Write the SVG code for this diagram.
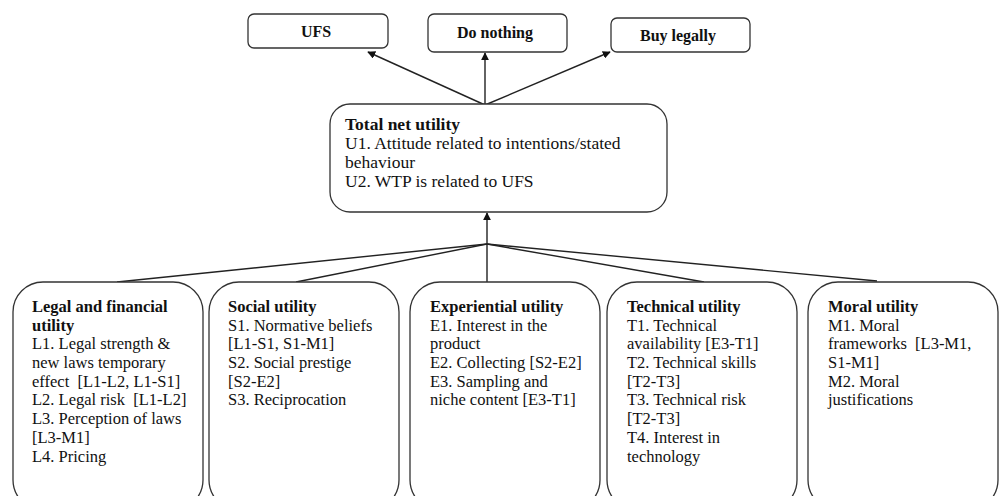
<svg xmlns="http://www.w3.org/2000/svg" width="1003" height="496" viewBox="0 0 1003 496">
<defs>
<style>
.box{fill:#fff;stroke:#333;stroke-width:1.3}
.t{font-family:"Liberation Serif","Times New Roman",serif;font-size:16.5px;fill:#111;white-space:pre}
.big{font-size:17.5px}
.hd{font-size:16px}
.b{font-weight:bold}
.c{text-anchor:middle}
.ln{stroke:#222;stroke-width:1.4;fill:none}
</style>
<marker id="ah" viewBox="0 0 10 10" refX="9" refY="5" markerWidth="8" markerHeight="8" markerUnits="userSpaceOnUse" orient="auto">
<path d="M0,0 L10,5 L0,10 z" fill="#111"/>
</marker>
</defs>
<rect width="1003" height="496" fill="#fff"/>
<g id="connectors">
<line class="ln" x1="485" y1="105" x2="368" y2="52" marker-end="url(#ah)"/>
<line class="ln" x1="485" y1="105" x2="485" y2="53" marker-end="url(#ah)"/>
<line class="ln" x1="485" y1="105" x2="610" y2="52" marker-end="url(#ah)"/>
<line class="ln" x1="487" y1="244" x2="487" y2="213" marker-end="url(#ah)"/>
<line class="ln" x1="487" y1="244" x2="117" y2="282"/>
<line class="ln" x1="487" y1="244" x2="296" y2="282"/>
<line class="ln" x1="487" y1="244" x2="487" y2="282"/>
<line class="ln" x1="487" y1="244" x2="704" y2="282"/>
<line class="ln" x1="487" y1="244" x2="877" y2="281"/>
</g>
<g id="ufs">
<rect class="box" x="248" y="14" width="140" height="34" rx="6"/>
<text class="t hd b c" x="316" y="37">UFS</text>
</g>
<g id="do-nothing">
<rect class="box" x="428" y="14" width="139" height="38" rx="6"/>
<text class="t hd b c" x="495" y="38">Do nothing</text>
</g>
<g id="buy-legally">
<rect class="box" x="611" y="18" width="139" height="34" rx="6"/>
<text class="t hd b c" x="678" y="41">Buy legally</text>
</g>
<g id="total">
<rect class="box" x="330" y="104" width="337" height="108" rx="20"/>
<text class="t big" x="345"><tspan class="b" x="345" y="130">Total net utility</tspan><tspan x="345" y="149">U1. Attitude related to intentions/stated</tspan><tspan x="345" y="168">behaviour</tspan><tspan x="345" y="187">U2. WTP is related to UFS</tspan></text>
</g>
<g id="legal">
<rect class="box" x="13" y="282" width="190" height="228" rx="30"/>
<text class="t" x="32"><tspan class="b" x="32" y="312">Legal and financial</tspan><tspan class="b" x="32" y="331">utility</tspan><tspan x="32" y="349">L1. Legal strength &amp;</tspan><tspan x="32" y="368">new laws temporary</tspan><tspan x="32" y="387">effect  [L1-L2, L1-S1]</tspan><tspan x="32" y="405">L2. Legal risk  [L1-L2]</tspan><tspan x="32" y="424">L3. Perception of laws</tspan><tspan x="32" y="443">[L3-M1]</tspan><tspan x="32" y="462">L4. Pricing</tspan></text>
</g>
<g id="social">
<rect class="box" x="209" y="282" width="190" height="228" rx="30"/>
<text class="t" x="228"><tspan class="b" x="228" y="312">Social utility</tspan><tspan x="228" y="331">S1. Normative beliefs</tspan><tspan x="228" y="349">[L1-S1, S1-M1]</tspan><tspan x="228" y="368">S2. Social prestige</tspan><tspan x="228" y="387">[S2-E2]</tspan><tspan x="228" y="405">S3. Reciprocation</tspan></text>
</g>
<g id="experiential">
<rect class="box" x="410" y="282" width="190" height="228" rx="30"/>
<text class="t" x="430"><tspan class="b" x="430" y="312">Experiential utility</tspan><tspan x="430" y="331">E1. Interest in the</tspan><tspan x="430" y="349">product</tspan><tspan x="430" y="368">E2. Collecting [S2-E2]</tspan><tspan x="430" y="387">E3. Sampling and</tspan><tspan x="430" y="405">niche content [E3-T1]</tspan></text>
</g>
<g id="technical">
<rect class="box" x="607" y="282" width="190" height="228" rx="30"/>
<text class="t" x="627"><tspan class="b" x="627" y="312">Technical utility</tspan><tspan x="627" y="331">T1. Technical</tspan><tspan x="627" y="349">availability [E3-T1]</tspan><tspan x="627" y="368">T2. Technical skills</tspan><tspan x="627" y="387">[T2-T3]</tspan><tspan x="627" y="405">T3. Technical risk</tspan><tspan x="627" y="424">[T2-T3]</tspan><tspan x="627" y="443">T4. Interest in</tspan><tspan x="627" y="462">technology</tspan></text>
</g>
<g id="moral">
<rect class="box" x="808" y="282" width="190" height="228" rx="30"/>
<text class="t" x="828"><tspan class="b" x="828" y="312">Moral utility</tspan><tspan x="828" y="331">M1. Moral</tspan><tspan x="828" y="349">frameworks  [L3-M1,</tspan><tspan x="828" y="368">S1-M1]</tspan><tspan x="828" y="387">M2. Moral</tspan><tspan x="828" y="405">justifications</tspan></text>
</g>
</svg>
